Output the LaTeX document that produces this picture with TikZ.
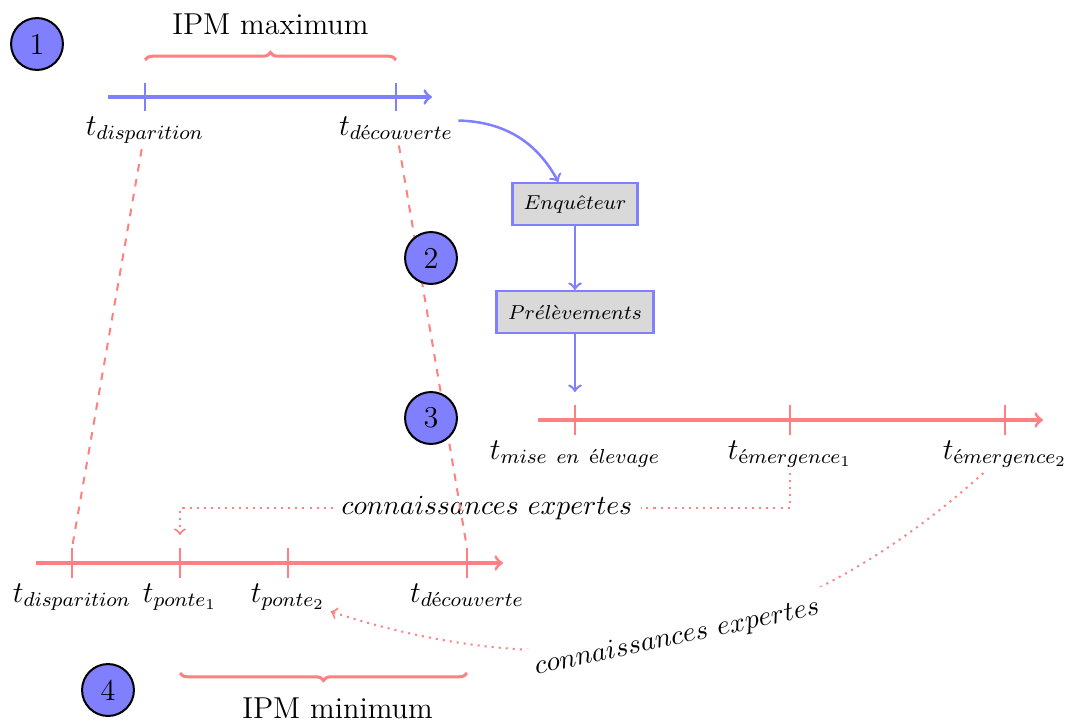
\documentclass[tikz,border=0pt]{standalone}
\usepackage{amsmath}
\usetikzlibrary{decorations.pathreplacing}
\begin{document}
\begin{tikzpicture}[x=0.013947cm, y=0.013947cm,
  axisblue/.style={blue!50, very thick, ->},
  axisred/.style={red!50, very thick, ->},
  tickmark/.style={semithick},
  tlab/.style={anchor=north, inner sep=2pt, font=\large},
  num/.style={circle, draw=black, thick, fill=blue!50, minimum size=20.6pt, inner sep=0pt, font=\large},
  stepbox/.style={draw=blue!50, line width=1pt, fill=gray!30, font=\footnotesize, inner xsep=4.5pt, minimum height=16.5pt},
  bracered/.style={red!50, very thick, decorate, decoration={brace, amplitude=3pt}},
  bracetext/.style={text=black, font=\large},
  experttext/.style={text=black, font=\fontsize{11.2}{13}\selectfont},
  link/.style={red!50, thick, dashed},
  expert/.style={red!50, thick, dotted},
  flow/.style={blue!50, line width=1pt, ->},
]
\useasboundingbox (0,0) rectangle (1069,-723);

% --- timeline 1: what the investigator knows
\draw[axisblue] (108,-97) -- (432,-97);
\foreach \x in {145,396} \draw[blue!50, tickmark] (\x,-83) -- (\x,-111);
\node[tlab] (dis1) at (145,-111) {$t_{disparition}$};
\node[tlab] (dec1) at (396,-111) {$t_{d\text{é}couverte}$};
\draw[bracered] (145,-60) -- (396,-60)
  node[midway, above=6pt, bracetext] {IPM maximum};

% --- investigation chain
\node[stepbox] (enq) at (575,-204) {$Enqu\hat{e}teur$};
\node[stepbox] (prel) at (575,-312) {$Pr\acute{e}l\grave{e}vements$};
\coordinate (mtop) at (575,-392);
\draw[flow] (dec1) to[bend left] (enq);
\draw[flow] (enq) -- (prel);
\draw[flow] (prel) -- (mtop);

% --- timeline 3: rearing
\draw[axisred] (538,-420) -- (1043,-420);
\foreach \x in {575,790,1005} \draw[red!50, tickmark] (\x,-405) -- (\x,-435);
\node[tlab] (elev) at (575,-435) {$t_{mise\ en\ \text{é}levage}$};
\node[tlab] (em1) at (790,-435) {$t_{\text{é}mergence_1}$};
\node[tlab] (em2) at (1005,-435) {$t_{\text{é}mergence_2}$};

% --- timeline 4: reconstructed interval
\draw[axisred] (36,-563) -- (503,-563);
\foreach \x in {72,180,288,467} \draw[red!50, tickmark] (\x,-548) -- (\x,-578);
\coordinate (b1) at (72,-548);
\coordinate (b4) at (467,-548);
\coordinate (p1in) at (180,-535);
\node[tlab] (dis2) at (72,-578) {$t_{disparition}$};
\node[tlab] (p1) at (180,-578) {$t_{ponte_1}$};
\node[tlab] (p2) at (288,-578) {$t_{ponte_2}$};
\node[tlab] (dec2) at (467,-578) {$t_{d\text{é}couverte}$};
\draw[bracered, decoration={brace, mirror, amplitude=3pt}] (180,-673) -- (467,-673)
  node[midway, below=6pt, xshift=5.6pt, bracetext] {IPM minimum};

% --- expert knowledge links
\node[experttext] (ck1) at (487,-508) {$connaissances\ expertes$};
\draw[expert] (em1) |- (ck1);
\draw[expert, ->] (ck1) -| (p1in);
\draw[expert, ->] (em2) to[bend left]
  node[sloped, fill=white, experttext] (ck2) {$connaissances\ expertes$} (p2);

% --- correspondence between the two intervals
\draw[link] (dis1) -- (b1);
\draw[link] (dec1) -- (b4);

% --- step numbers
\node[num] (n1) at (37,-44) {1};
\node[num] (n2) at (431,-258) {2};
\node[num] (n3) at (431,-418) {3};
\node[num] (n4) at (108,-690) {4};
\end{tikzpicture}
\end{document}
